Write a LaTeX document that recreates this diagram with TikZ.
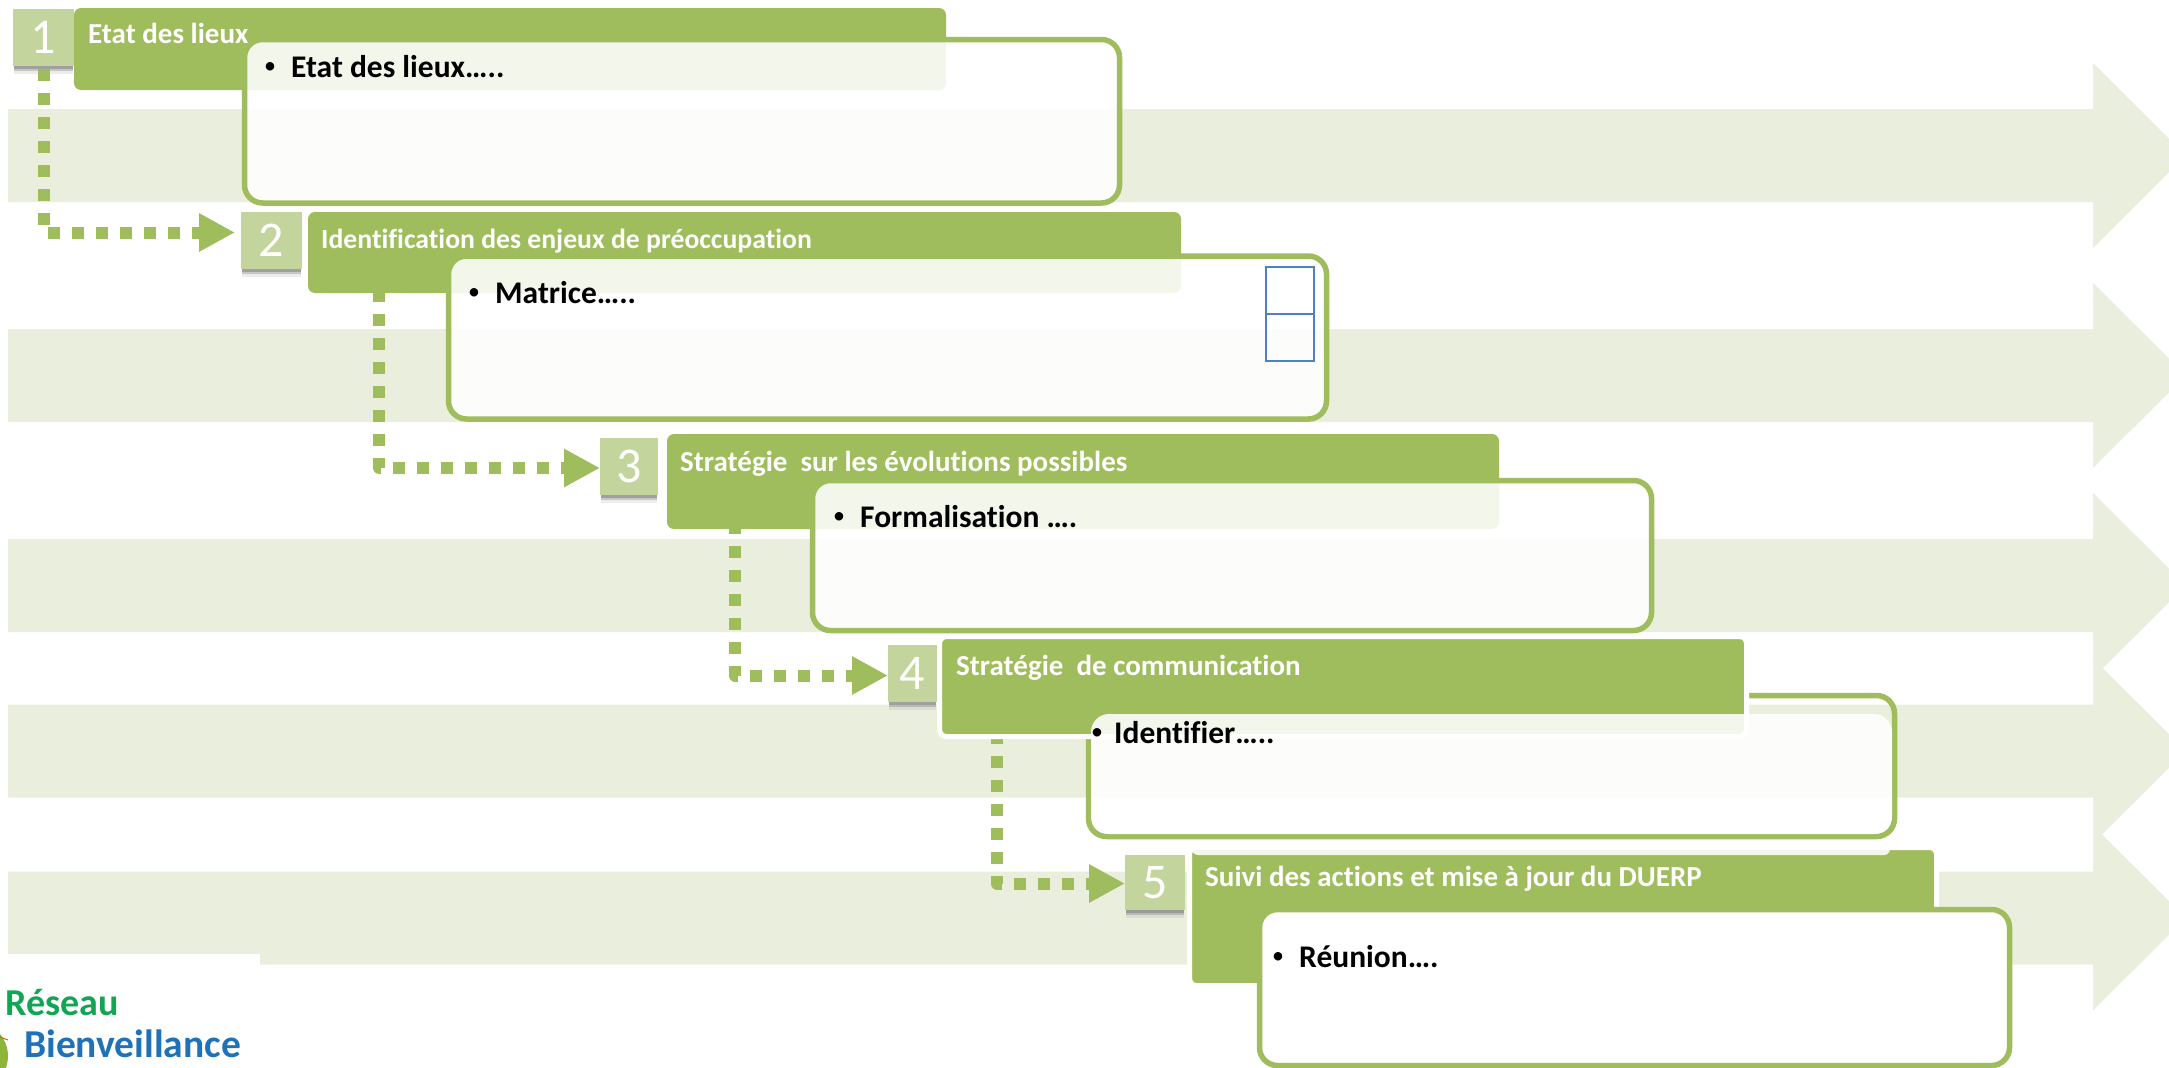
\documentclass[tikz,border=0pt]{standalone}
\usepackage{fontspec}
\setmainfont{Carlito}[Ligatures={NoCommon,NoContextual}]
\usetikzlibrary{arrows.meta}
\definecolor{gbar}{HTML}{9FBD5C}
\definecolor{gnum}{HTML}{C3D59C}
\definecolor{gband}{HTML}{EAEEDD}
\definecolor{tabblue}{HTML}{4F81BD}
\definecolor{logogreen}{HTML}{12A654}
\definecolor{logoblue}{HTML}{1F72B8}
\definecolor{logoicon}{HTML}{8DB53C}
\tikzset{
  conn/.style={draw=gbar,line width=12pt,line join=round,dash pattern=on 12pt off 12pt,-{Triangle[length=36pt,width=36pt]}},
  hdrbox/.style={fill=gbar,draw=white,line width=5pt,rounded corners=7pt,inner sep=0pt,outer sep=0pt},
  cntbox/.style={draw=gbar,fill=white,fill opacity=.88,line width=5.5pt,rounded corners=18pt,inner sep=0pt,outer sep=0pt},
  numbox/.style={fill=gnum,text=white,inner sep=0pt,outer sep=0pt,font=\fontsize{50}{50}\selectfont},
  hdrtext/.style={anchor=base west,text=white,inner sep=0pt,font=\fontsize{29}{29}\selectfont\bfseries},
  cnttext/.style={anchor=base west,text=black,inner sep=0pt,font=\fontsize{31.5}{31.5}\selectfont\bfseries},
  tabcell/.style={draw=tabblue,line width=2pt,minimum width=48pt,minimum height=47pt,inner sep=0pt},
}
% style name x0 y0 x1 y1
\newcommand{\mybox}[6]{%
  \pgfmathsetmacro{\bw}{#5-#3}\pgfmathsetmacro{\bh}{#6-#4}%
  \pgfmathsetmacro{\bx}{(#5+#3)/2}\pgfmathsetmacro{\by}{(#6+#4)/2}%
  \node[#1,minimum width=\bw pt,minimum height=\bh pt] (#2) at (\bx,\by) {};}
\newcommand{\mynum}[6]{%
  \fill[black!50,opacity=.75] (#3+1,#6) rectangle (#5-1,#6+3);
  \fill[black!50,opacity=.45] (#3+1,#6+3) rectangle (#5-1,#6+5);
  \fill[black!50,opacity=.15] (#3+1,#6+5) rectangle (#5-1,#6+8);
  \pgfmathsetmacro{\bw}{#5-#3}\pgfmathsetmacro{\bh}{#6-#4}%
  \pgfmathsetmacro{\bx}{(#5+#3)/2}\pgfmathsetmacro{\by}{(#6+#4)/2}%
  \node[numbox,minimum width=\bw pt,minimum height=\bh pt] (#2) at (\bx,\by) {#1};}
\newcommand{\myband}[1]{%
  \fill[gband] (8,#1-46.5) -- (2093,#1-46.5) -- (2093,#1-92.5) -- (2186,#1) -- (2093,#1+92.5) -- (2093,#1+46.5) -- (8,#1+46.5) -- cycle;}
\newcommand{\bul}[1][27pt]{\makebox[#1][l]{\raisebox{3.5pt}{\fontsize{24}{24}\selectfont\mdseries •}}}
\begin{document}
\begin{tikzpicture}[x=1pt,y=-1pt]
\useasboundingbox (0,0) rectangle (2169,1068);
\clip (0,0) rectangle (2169,1068);
% bands
\myband{155.5}
\myband{375.5}
\myband{585.5}
\myband{751}
\myband{918}
\fill[white] (0,954) rectangle (260,975);
% logo
\fill[logoicon] (-26,1056) circle (34);
\draw[orange!80!black,line width=1pt] (-8,1034) -- (8,1040);
\node[anchor=base west,inner sep=0pt,text=logogreen,font=\fontsize{38}{38}\selectfont\bfseries] (lg1) at (5,1015) {Réseau};
\node[anchor=base west,inner sep=0pt,text=logoblue,font=\fontsize{39.5}{39.5}\selectfont\bfseries] (lg2) at (24,1057) {Bienveillance};
% free starts of the connectors, under the headers
\coordinate (s2) at (379,290);
\coordinate (s3) at (735,522);
\coordinate (s4) at (997,732);
\mynum{1}{n1}{13}{9}{74}{66}
\mynum{2}{n2}{241}{212}{302}{269}
\mynum{3}{n3}{600}{438}{658}{495}
\mynum{4}{n4}{888}{645}{937}{702}
\mynum{5}{n5}{1125}{855}{1185}{910}
\draw[conn,shorten <=3pt,shorten >=6pt] (n1.south) |- ([yshift=8pt]n2.west);
\draw[conn] (s2) |- ([yshift=-1.5pt]n3.west);
\draw[conn] (s3) |- ([yshift=-2pt]n4.west);
\draw[conn] (s4) |- ([yshift=-1pt]n5.west);
% step 1
\mybox{hdrbox,draw=none}{h1}{74}{8}{946}{90}
\mybox{cntbox}{c1}{244.5}{39.5}{1119.5}{203}
\node[hdrtext] (t1) at (88,43) {Etat des lieux};
\node[cnttext] (b1) at (264,77) {\bul Etat des lieux…..};
% step 2
\mybox{hdrbox,draw=none}{h2}{308}{212}{1181}{293}
\mybox{cntbox}{c2}{448.5}{256}{1326.5}{419}
\node[hdrtext,font=\fontsize{27.7}{27.7}\selectfont\bfseries] (t2) at (321,248.5) {Identification des enjeux de préoccupation};
\node[cnttext] (b2) at (468,303) {\bul Matrice…..};
\node[tabcell] (tab1) at (1289.5,290.5) {};
\node[tabcell] (tab2) at (1289.5,337.5) {};
% step 3
\mybox{hdrbox,draw=none}{h3}{667}{434}{1499}{529}
\mybox{cntbox}{c3}{812.5}{480.5}{1651.5}{630.5}
\node[hdrtext] (t3) at (680,471) {Stratégie~~sur les évolutions possibles};
\node[cnttext] (b3) at (833,527) {\bul Formalisation ….};
% step 4
\mybox{cntbox,fill=none}{c4}{1088.5}{695.5}{1894.5}{836.5}
\mybox{hdrbox}{h4}{939.5}{636.5}{1746.5}{736.5}
\mybox{cntbox,draw=none}{c4f}{1091}{714}{1892}{834}
\node[hdrtext] (t4) at (956,675) {Stratégie~~de communication};
\node[cnttext] (b4) at (1091,743) {\bul[23pt]Identifier…..};
% step 5
\mybox{hdrbox}{h5}{1189.5}{847.5}{1936.5}{985.5}
\fill[white,opacity=.88,rounded corners=6pt] (1192,840) rectangle (1890,855);
\mybox{cntbox,fill opacity=1}{c5}{1259.5}{909.5}{2009.5}{1065.5}
\node[hdrtext] (t5) at (1205,886) {Suivi des actions et mise à jour du DUERP};
\node[cnttext] (b5) at (1272,967) {\bul Réunion….};
\end{tikzpicture}
\end{document}
